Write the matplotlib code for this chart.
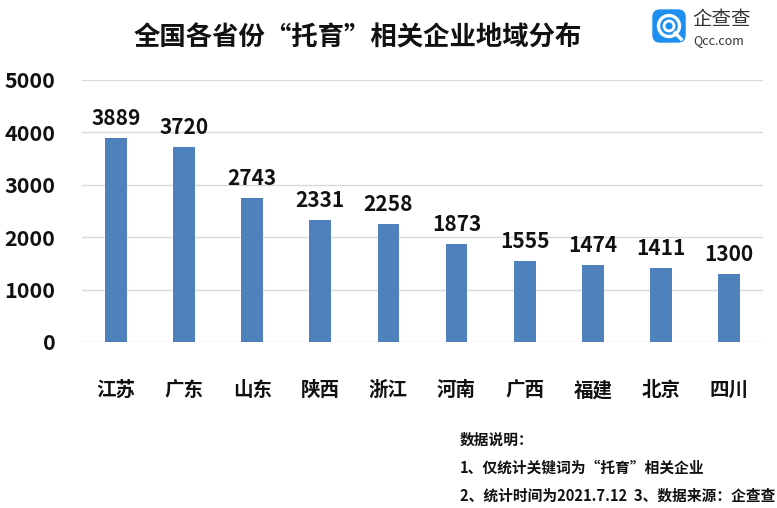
import matplotlib
matplotlib.use("Agg")
import matplotlib.pyplot as plt
from matplotlib.patches import FancyBboxPatch, Circle

plt.rcParams['font.family'] = ['Noto Sans CJK SC', 'DejaVu Sans']

categories = ["江苏", "广东", "山东", "陕西", "浙江", "河南", "广西", "福建", "北京", "四川"]
values = [3889, 3720, 2743, 2331, 2258, 1873, 1555, 1474, 1411, 1300]
yticks = [0, 1000, 2000, 3000, 4000, 5000]
title = "全国各省份“托育”相关企业地域分布"
notes = ["数据说明：", "1、仅统计关键词为“托育”相关企业", "2、统计时间为2021.7.12  3、数据来源：企查查"]

W, H = 777, 508
fig = plt.figure(figsize=(W / 100, H / 100), dpi=100)
ax = fig.add_axes([82 / W, 1 - 342 / H, (763 - 82) / W, (342 - 80) / H])

x = list(range(len(categories)))
ax.bar(x, values, width=0.32, color="#4F81BD", zorder=3)
for xi, v in zip(x, values):
    ax.text(xi, v + 170, str(v), ha="center", va="bottom", fontsize=15, fontweight="bold", color="#111111")

ax.set_xlim(-0.5, len(categories) - 0.5)
ax.set_ylim(0, 5000)
ax.set_yticks(yticks)
ax.set_yticklabels([str(t) for t in yticks], fontsize=15.5, fontweight="bold", color="#111111")
ax.set_xticks(x)
ax.set_xticklabels(categories, fontsize=14, fontweight="bold", color="#111111")
ax.tick_params(axis="both", length=0)
ax.tick_params(axis="y", pad=19)
ax.tick_params(axis="x", pad=28)
ax.yaxis.grid(True, color="#D9D9D9", linewidth=1, zorder=0)
for s in ax.spines.values():
    s.set_visible(False)

fig.text(358 / W, 1 - 38 / H, title, ha="center", va="center", fontsize=19, fontweight="bold", color="#111111")

for i, n in enumerate(notes):
    fig.text(460 / W, 1 - (440 + 28 * i) / H, n, ha="left", va="center", fontsize=10.6, fontweight="bold", color="#111111")

# logo
lax = fig.add_axes([0, 0, 1, 1], facecolor="none")
lax.set_xlim(0, W)
lax.set_ylim(H, 0)
lax.axis("off")
lax.add_patch(FancyBboxPatch((653, 10), 32, 32, boxstyle="round,pad=0,rounding_size=7", color="#1E8FF0"))
lax.add_patch(Circle((669, 26), 10.5, fill=False, edgecolor="white", linewidth=2.4))
lax.add_patch(Circle((669, 26), 5, fill=False, edgecolor="white", linewidth=2))
lax.plot([675, 681], [33, 39], color="white", linewidth=2.4)
lax.text(692, 20, "企查查", ha="left", va="center", fontsize=14, color="#333333")
lax.text(693, 41, "Qcc.com", ha="left", va="center", fontsize=9, color="#333333")

fig.savefig("out.png", dpi=100)
